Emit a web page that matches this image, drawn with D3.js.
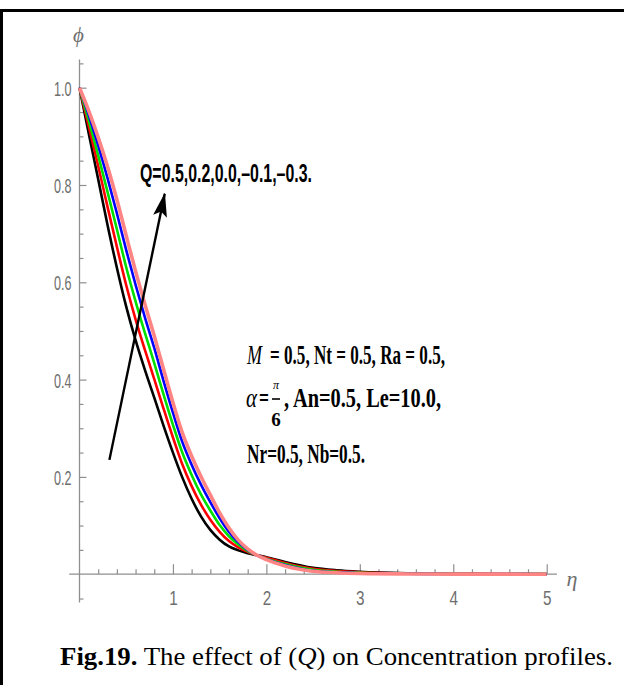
<!DOCTYPE html>
<html>
<head>
<meta charset="utf-8">
<script src="https://cdn.jsdelivr.net/npm/d3@7"></script>
<style>
  body { margin: 0; background: #fff; }
  svg { display: block; }
  .serif { font-family: "Liberation Serif", "Times New Roman", Times, serif; }
  .sans  { font-family: "Liberation Sans", Arial, Helvetica, sans-serif; }
</style>
</head>
<body>
<svg id="chart" width="624" height="685"></svg>
<script>
// Similarity variable eta
const etaGrid = [0, 0.1, 0.2, 0.3, 0.4, 0.5, 0.6, 0.7, 0.8, 0.9, 1.0, 1.1, 1.2, 1.3, 1.4, 1.5,
                 1.6, 1.7, 1.8, 1.9, 2.0, 2.2, 2.5, 2.75, 3.0, 3.5, 4.0, 4.5, 5.0];

// Concentration profiles phi(eta) for each heat source/sink parameter Q
const phiQ05  = [1, 0.905, 0.812, 0.718, 0.630, 0.550, 0.481, 0.420, 0.363, 0.305, 0.250, 0.199, 0.155, 0.119, 0.091, 0.071,
                 0.057, 0.049, 0.043, 0.039, 0.035, 0.025, 0.013, 0.008, 0.005, 0.002, 0.001, 0.0005, 0.0002];
const phiQ02  = [1, 0.920, 0.839, 0.755, 0.673, 0.594, 0.524, 0.461, 0.401, 0.340, 0.281, 0.226, 0.181, 0.143, 0.112, 0.087,
                 0.068, 0.055, 0.046, 0.039, 0.034, 0.023, 0.011, 0.0065, 0.004, 0.0015, 0.0008, 0.0004, 0.00015];
const phiQ00  = [1, 0.932, 0.861, 0.786, 0.709, 0.631, 0.561, 0.496, 0.434, 0.369, 0.307, 0.250, 0.204, 0.164, 0.131, 0.101,
                 0.078, 0.061, 0.048, 0.039, 0.032, 0.021, 0.009, 0.005, 0.003, 0.0012, 0.0006, 0.0003, 0.0001];
const phiQm01 = [1, 0.943, 0.881, 0.814, 0.742, 0.666, 0.595, 0.528, 0.465, 0.397, 0.332, 0.272, 0.225, 0.184, 0.148, 0.115,
                 0.087, 0.066, 0.050, 0.039, 0.031, 0.019, 0.007, 0.004, 0.002, 0.0008, 0.0004, 0.0002, 0.00005];
const phiQm03 = [1, 0.952, 0.898, 0.838, 0.770, 0.696, 0.623, 0.555, 0.490, 0.421, 0.353, 0.291, 0.243, 0.201, 0.163, 0.126,
                 0.095, 0.070, 0.052, 0.039, 0.030, 0.017, 0.006, 0.003, 0.0015, 0.0005, 0.0002, 0.0001, 0];

const qValues = ["0.5", "0.2", "0.0", "-0.1", "-0.3"];
const seriesList = [phiQ05, phiQ02, phiQ00, phiQm01, phiQm03];
const seriesColors = ["#000000", "#ff0000", "#00e000", "#0000ff", "#ff8585"];
const seriesWidths = [2.6, 2.6, 2.6, 2.6, 3.6];

const xMajor = [1, 2, 3, 4, 5];
const xMajorLabels = ["1", "2", "3", "4", "5"];
const yMajor = [0.2, 0.4, 0.6, 0.8, 1.0];
const yMajorLabels = ["0.2", "0.4", "0.6", "0.8", "1.0"];

const svg = d3.select("#chart");
const x = d3.scaleLinear().domain([0, 5]).range([79.5, 546.7]);
const y = d3.scaleLinear().domain([0, 1]).range([574.2, 87.7]);

const axisGray = "#8f8f8f";
const labelGray = "#6e6e6e";

// Frame around the figure
svg.append("path")
  .attr("d", "M1.5,700 L1.5,10.5 L640,10.5")
  .attr("fill", "none").attr("stroke", "#000").attr("stroke-width", 3);

// Axis lines (extend slightly past the origin)
svg.append("line")
  .attr("x1", x(-0.11)).attr("x2", x(5.11)).attr("y1", y(0)).attr("y2", y(0))
  .attr("stroke", axisGray).attr("stroke-width", 1.3);
svg.append("line")
  .attr("x1", x(0)).attr("x2", x(0)).attr("y1", y(1.058)).attr("y2", y(-0.058))
  .attr("stroke", axisGray).attr("stroke-width", 1.3);

// X axis ticks (pointing upward)
const xMinor = d3.range(0, 5.001, 0.2).filter(v => Math.abs(v - Math.round(v)) > 1e-6);
const gx = svg.append("g").attr("transform", `translate(0,${y(0)})`);
gx.call(d3.axisBottom(x).tickValues(xMinor).tickSizeInner(-5).tickSizeOuter(0).tickFormat(""));
gx.select(".domain").remove();
const gx2 = svg.append("g").attr("transform", `translate(0,${y(0)})`);
gx2.call(d3.axisBottom(x).tickValues(xMajor).tickSizeInner(-10).tickSizeOuter(0)
  .tickFormat((d, i) => xMajorLabels[i]).tickPadding(0));
gx2.select(".domain").remove();
gx2.selectAll("text")
  .attr("class", "sans").attr("font-family", null)
  .attr("font-size", 21).attr("fill", labelGray)
  .attr("dy", 0).attr("y", 31)
  .attr("textLength", 8.5).attr("lengthAdjust", "spacingAndGlyphs");

// Y axis ticks (pointing right)
const yMinor = d3.range(-0.05, 1.051, 0.05).filter(v => Math.abs(v * 5 - Math.round(v * 5)) > 1e-6);
const gy = svg.append("g").attr("transform", `translate(${x(0)},0)`);
gy.call(d3.axisLeft(y).tickValues(yMinor).tickSizeInner(-4).tickSizeOuter(0).tickFormat(""));
gy.select(".domain").remove();
const gy2 = svg.append("g").attr("transform", `translate(${x(0)},0)`);
gy2.call(d3.axisLeft(y).tickValues(yMajor).tickSizeInner(-7).tickSizeOuter(0)
  .tickFormat((d, i) => yMajorLabels[i]).tickPadding(8));
gy2.select(".domain").remove();
gy2.selectAll("text")
  .attr("class", "sans").attr("font-family", null)
  .attr("font-size", 21).attr("fill", labelGray)
  .attr("dy", "0.36em")
  .attr("textLength", 17.5).attr("lengthAdjust", "spacingAndGlyphs");
svg.selectAll("g.tick line").attr("stroke", axisGray).attr("stroke-width", 1.2);

// Axis symbols
svg.append("text").attr("class", "serif").attr("x", x(0) - 1).attr("y", 42)
  .attr("font-style", "italic").attr("font-size", 21).attr("fill", labelGray)
  .attr("text-anchor", "middle").text("ϕ");
svg.append("text").attr("class", "serif").attr("x", 572).attr("y", 586)
  .attr("font-style", "italic").attr("font-size", 22).attr("fill", labelGray)
  .attr("text-anchor", "middle").text("η");

// Profiles
const line = d3.line()
  .x((d, i) => x(etaGrid[i]))
  .y(d => y(d))
  .curve(d3.curveMonotoneX);

svg.append("g").selectAll("path")
  .data(seriesList)
  .join("path")
  .attr("d", d => line(d))
  .attr("fill", "none")
  .attr("stroke", (d, i) => seriesColors[i])
  .attr("stroke-width", (d, i) => seriesWidths[i])
  .attr("stroke-linejoin", "round");

// Arrow showing the direction of change in Q
svg.append("defs").append("marker")
  .attr("id", "head").attr("viewBox", "0 0 24 14")
  .attr("refX", 23).attr("refY", 7)
  .attr("markerWidth", 24).attr("markerHeight", 14)
  .attr("markerUnits", "userSpaceOnUse")
  .attr("orient", "auto")
  .append("path").attr("d", "M0,0 L24,7 L0,14 L5,7 Z").attr("fill", "#000");

svg.append("line")
  .attr("x1", x(0.32)).attr("y1", y(0.235))
  .attr("x2", x(0.912)).attr("y2", y(0.782))
  .attr("stroke", "#000").attr("stroke-width", 2.4)
  .attr("marker-end", "url(#head)");

svg.append("text").attr("class", "sans")
  .attr("x", 140).attr("y", 182)
  .attr("font-weight", "bold").attr("font-size", 26)
  .attr("textLength", 172).attr("lengthAdjust", "spacingAndGlyphs")
  .attr("fill", "#000")
  .text("Q=" + qValues.map(v => v.replace("-", "\u2013")).join(",") + ".");

// Parameter block
const bold = (sel) => sel.attr("class", "serif").attr("font-weight", "bold").attr("font-size", 27)
  .attr("lengthAdjust", "spacingAndGlyphs");

svg.append("text").attr("class", "serif").attr("x", 247).attr("y", 364)
  .attr("font-style", "italic").attr("font-size", 27)
  .attr("textLength", 15).attr("lengthAdjust", "spacingAndGlyphs").text("M");
svg.append("text").call(bold).attr("x", 270).attr("y", 364)
  .attr("textLength", 175).text("= 0.5, Nt = 0.5, Ra = 0.5,");

svg.append("text").attr("class", "serif").attr("x", 246).attr("y", 407)
  .attr("font-style", "italic").attr("font-size", 27)
  .attr("textLength", 11).attr("lengthAdjust", "spacingAndGlyphs").text("α");
svg.append("text").call(bold).attr("x", 259).attr("y", 407)
  .attr("textLength", 10).text("=");
svg.append("text").attr("class", "serif").attr("x", 276).attr("y", 389)
  .attr("font-size", 12).attr("text-anchor", "middle")
  .attr("font-style", "italic").text("π");
svg.append("line").attr("x1", 272).attr("x2", 280).attr("y1", 399).attr("y2", 399)
  .attr("stroke", "#000").attr("stroke-width", 1.6);
svg.append("text").attr("class", "serif").attr("x", 276).attr("y", 426)
  .attr("font-weight", "bold").attr("font-size", 19)
  .attr("text-anchor", "middle").text("6");
svg.append("text").call(bold).attr("x", 284).attr("y", 407)
  .attr("textLength", 157).text(", An=0.5,  Le=10.0,");

svg.append("text").call(bold).attr("x", 247).attr("y", 463)
  .attr("textLength", 118).text("Nr=0.5, Nb=0.5.");

// Caption
const cap = svg.append("text").attr("class", "serif").attr("x", 60).attr("y", 665)
  .attr("font-size", 25).attr("fill", "#000")
  .attr("textLength", 553).attr("lengthAdjust", "spacingAndGlyphs");
cap.append("tspan").attr("font-weight", "bold").text("Fig.19.");
cap.append("tspan").text(" The effect of (");
cap.append("tspan").attr("font-style", "italic").text("Q");
cap.append("tspan").text(") on Concentration profiles.");
</script>
</body>
</html>
